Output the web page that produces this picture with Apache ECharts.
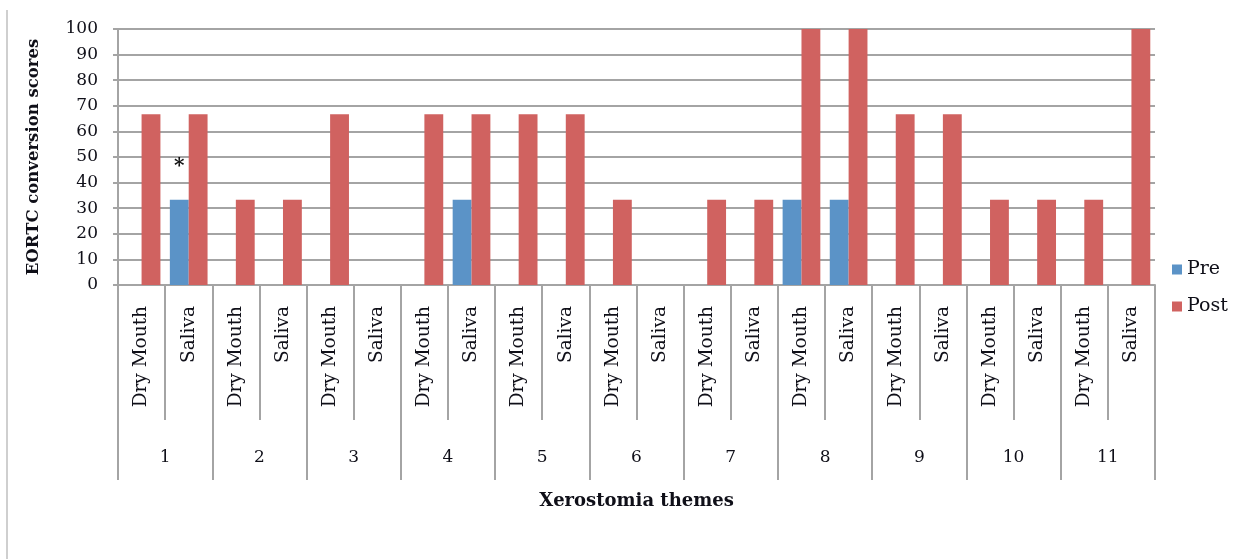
<!DOCTYPE html>
<html>
<head>
<meta charset="utf-8">
<script src="https://cdn.jsdelivr.net/npm/echarts@6/dist/echarts.min.js"></script>
<style>
  html, body { margin: 0; padding: 0; background: #fff; }
  #chart { width: 1238px; height: 559px; }
</style>
</head>
<body>
<div id="chart"></div>
<script>
// Two sub-items per theme, eleven themes
const items = ['Dry Mouth', 'Saliva', 'Dry Mouth', 'Saliva', 'Dry Mouth', 'Saliva', 'Dry Mouth', 'Saliva',
  'Dry Mouth', 'Saliva', 'Dry Mouth', 'Saliva', 'Dry Mouth', 'Saliva', 'Dry Mouth', 'Saliva',
  'Dry Mouth', 'Saliva', 'Dry Mouth', 'Saliva', 'Dry Mouth', 'Saliva'];
const themes = ['1', '2', '3', '4', '5', '6', '7', '8', '9', '10', '11'];

// EORTC conversion scores
const preScores = [0, 33.3, 0, 0, 0, 0, 0, 33.3, 0, 0, 0, 0, 0, 0, 33.3, 33.3, 0, 0, 0, 0, 0, 0];
const postScores = [66.7, 66.7, 33.3, 33.3, 66.7, 0, 66.7, 66.7, 66.7, 66.7, 33.3, 0, 33.3, 33.3, 100, 100, 66.7, 66.7, 33.3, 33.3, 33.3, 100];

// significance marker on the Saliva item of theme 1
const markedIndex = 1;
const markText = '*';

const yTicks = { min: 0, max: 100, interval: 10 };

const serif = '"DejaVu Serif", "Liberation Serif", serif';
const textColor = '#0f0f18';
const lineColor = '#a4a4a4';

const preData = preScores.map((v, i) => i === markedIndex
  ? { value: v, label: { show: true, formatter: markText, position: 'top', distance: 23,
      fontSize: 20, fontWeight: 'bold', color: '#111', fontFamily: serif } }
  : v);

const chart = echarts.init(document.getElementById('chart'), null, { renderer: 'canvas' });

chart.setOption({
  animation: false,
  backgroundColor: '#fff',
  grid: { left: 118, right: 83, top: 29, bottom: 274, containLabel: false },
  legend: {
    orient: 'vertical',
    left: 1167,
    top: 255,
    itemWidth: 10,
    itemHeight: 10,
    itemGap: 18,
    icon: 'rect',
    textStyle: { fontFamily: serif, fontSize: 19, color: textColor },
    data: ['Pre', 'Post']
  },
  xAxis: [
    {
      type: 'category',
      data: items,
      position: 'bottom',
      name: 'Xerostomia themes',
      nameLocation: 'middle',
      nameGap: 207,
      nameTextStyle: { fontFamily: serif, fontSize: 18, fontWeight: 'bold', color: textColor },
      axisLine: { show: true, lineStyle: { color: lineColor, width: 2 } },
      axisTick: { show: true, interval: 0, length: 135, lineStyle: { color: lineColor, width: 2 } },
      axisLabel: { interval: 0, rotate: 90, margin: 21, fontFamily: serif, fontSize: 18.5, color: textColor }
    },
    {
      type: 'category',
      data: themes,
      position: 'bottom',
      axisLine: { show: false },
      axisTick: { show: true, interval: 0, length: 195, lineStyle: { color: lineColor, width: 2 } },
      axisLabel: { interval: 0, margin: 164, fontFamily: serif, fontSize: 17, color: textColor }
    }
  ],
  yAxis: {
    type: 'value',
    min: yTicks.min,
    max: yTicks.max,
    interval: yTicks.interval,
    name: 'EORTC conversion scores',
    nameLocation: 'middle',
    nameGap: 76,
    nameTextStyle: { fontFamily: serif, fontSize: 16.5, fontWeight: 'bold', color: textColor },
    axisLine: { show: true, lineStyle: { color: lineColor, width: 2 } },
    axisTick: { show: true, length: 5, lineStyle: { color: lineColor, width: 2 } },
    splitLine: { show: true, lineStyle: { color: lineColor, width: 2 } },
    axisLabel: { margin: 20, fontFamily: serif, fontSize: 17, color: textColor }
  },
  series: [
    {
      name: 'Pre',
      type: 'bar',
      xAxisIndex: 0,
      data: preData,
      barGap: '0%',
      barCategoryGap: '20%',
      itemStyle: { color: '#5b93c7' }
    },
    {
      name: 'Post',
      type: 'bar',
      xAxisIndex: 0,
      data: postScores,
      barGap: '0%',
      barCategoryGap: '20%',
      itemStyle: { color: '#d06260' }
    }
  ],
  graphic: [
    {
      type: 'line',
      shape: { x1: 7, y1: 10, x2: 7, y2: 559 },
      style: { stroke: '#cfcfcf', lineWidth: 2 },
      silent: true
    }
  ]
});
</script>
</body>
</html>
